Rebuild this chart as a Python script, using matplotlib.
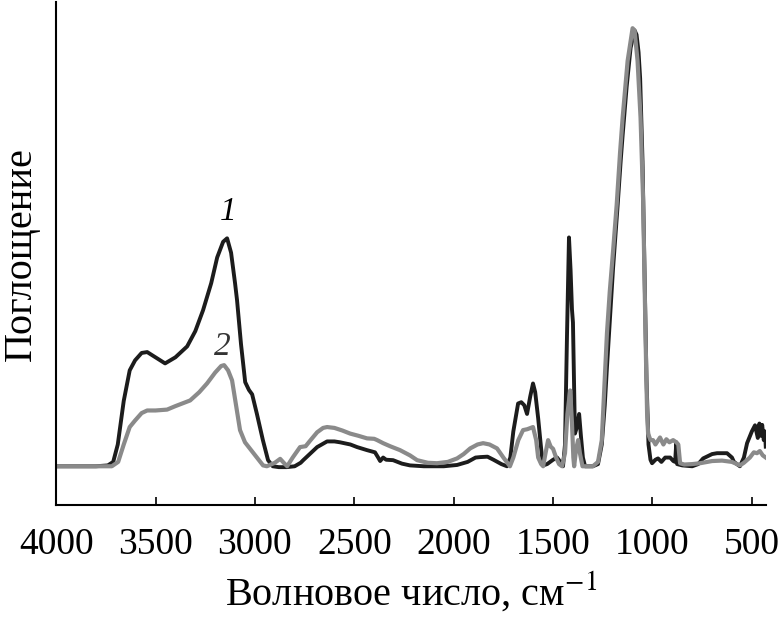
import matplotlib
matplotlib.use("Agg")
import matplotlib.pyplot as plt

plt.rcParams['font.family'] = ['Liberation Serif', 'DejaVu Serif']
plt.rcParams['mathtext.fontset'] = 'stix'

# spectrum 1 (black): wavenumber, absorbance (normalised)
wn_1 = [4000, 3800, 3740, 3713, 3690, 3660, 3630, 3603, 3570, 3542, 3500, 3452,
        3400, 3341, 3300, 3261, 3220, 3190, 3160, 3140, 3120, 3100, 3090, 3070,
        3049, 3030, 3014, 2990, 2960, 2934, 2910, 2880, 2840, 2800, 2770, 2757,
        2720, 2687, 2637, 2600, 2572, 2520, 2486, 2436, 2396, 2380, 2370, 2355,
        2340, 2305, 2260, 2220, 2150, 2050, 1983, 1930, 1890, 1867, 1830, 1800,
        1760, 1732, 1715, 1700, 1676, 1660, 1645, 1631, 1615, 1601, 1590, 1575,
        1560, 1550, 1530, 1500, 1480, 1460, 1450, 1440, 1430, 1420, 1412, 1405,
        1400, 1395, 1390, 1380, 1369, 1360, 1350, 1339, 1300, 1274, 1255, 1240,
        1229, 1215, 1198, 1175, 1160, 1150, 1130, 1110, 1090, 1080, 1070, 1062,
        1050, 1040, 1030, 1020, 1010, 1002, 985, 972, 955, 936, 911, 895, 886,
        880, 876, 850, 800, 770, 745, 700, 675, 625, 600, 590, 560, 540, 524,
        500, 484, 470, 462, 455, 448, 440, 434, 430]
abs_1 = [0, 0, 0.002, 0.01, 0.05, 0.15, 0.22, 0.243, 0.26, 0.262, 0.25, 0.236,
         0.25, 0.275, 0.31, 0.358, 0.42, 0.479, 0.515, 0.523, 0.49, 0.42, 0.381, 0.28,
         0.193, 0.175, 0.165, 0.12, 0.06, 0.014, 0.0, -0.002, -0.002, 0.0, 0.008, 0.014,
         0.03, 0.044, 0.057, 0.057, 0.055, 0.05, 0.044, 0.037, 0.032, 0.02, 0.012, 0.02,
         0.015, 0.014, 0.006, 0.002, 0, 0, 0.003, 0.01, 0.02, 0.021, 0.022, 0.015,
         0.005, 0, 0.02, 0.08, 0.144, 0.147, 0.14, 0.12, 0.16, 0.19, 0.17, 0.11,
         0.04, 0.002, 0.005, 0.015, 0.02, 0.008, 0.0, 0.05, 0.3, 0.525, 0.45, 0.36,
         0.33, 0.2, 0.075, 0.09, 0.12, 0.07, 0.02, 0.0, 0.0, 0.005, 0.05, 0.14,
         0.227, 0.33, 0.456, 0.6, 0.7, 0.76, 0.87, 0.96, 1.0, 0.99, 0.95, 0.89,
         0.7, 0.45, 0.2, 0.05, 0.015, 0.007, 0.015, 0.018, 0.01, 0.02, 0.02, 0.012, 0.01,
         0.055, 0.005, 0.002, 0.0, 0.005, 0.018, 0.028, 0.03, 0.03, 0.02, 0.01, 0, 0.02, 0.053,
         0.08, 0.094, 0.065, 0.098, 0.07, 0.095, 0.06, 0.08, 0.045]

# spectrum 2 (grey)
wn_2 = [4000, 3800, 3720, 3688, 3660, 3630, 3603, 3570, 3542, 3500, 3442, 3400,
        3326, 3280, 3241, 3200, 3170, 3155, 3135, 3115, 3095, 3075, 3050, 3024,
        2990, 2959, 2940, 2900, 2873, 2855, 2838, 2810, 2773, 2745, 2720, 2687,
        2657, 2637, 2600, 2560, 2521, 2480, 2436, 2400, 2385, 2355, 2320, 2270,
        2220, 2184, 2130, 2084, 2030, 1983, 1950, 1917, 1880, 1852, 1820, 1782,
        1750, 1717, 1700, 1675, 1651, 1630, 1601, 1585, 1575, 1560, 1550, 1538,
        1525, 1512, 1500, 1485, 1470, 1455, 1440, 1428, 1414, 1405, 1398, 1394,
        1384, 1374, 1365, 1352, 1300, 1274, 1255, 1240, 1229, 1215, 1198, 1180,
        1163, 1150, 1125, 1100, 1090, 1075, 1060, 1047, 1035, 1027, 1022, 1010,
        997, 985, 962, 945, 930, 915, 896, 880, 870, 861, 840, 800, 760, 700,
        650, 600, 560, 540, 510, 490, 474, 460, 445, 430]
abs_2 = [0, 0, 0.0, 0.01, 0.05, 0.09, 0.105, 0.122, 0.128, 0.128, 0.13, 0.138,
         0.151, 0.17, 0.19, 0.215, 0.23, 0.232, 0.22, 0.197, 0.14, 0.083, 0.055, 0.04,
         0.02, 0.002, 0.0, 0.008, 0.017, 0.008, 0.0, 0.02, 0.044, 0.046, 0.06, 0.078,
         0.088, 0.09, 0.088, 0.082, 0.075, 0.07, 0.064, 0.063, 0.06, 0.053, 0.046, 0.037,
         0.025, 0.014, 0.008, 0.007, 0.01, 0.018, 0.028, 0.041, 0.05, 0.053, 0.05, 0.041,
         0.02, 0.0, 0.02, 0.06, 0.083, 0.085, 0.09, 0.06, 0.02, 0.005, 0.0, 0.03,
         0.06, 0.045, 0.04, 0.02, 0.005, 0.0, 0.03, 0.12, 0.174, 0.1, 0.02, 0.0,
         0.04, 0.06, 0.03, 0.0, 0.0, 0.01, 0.06, 0.2, 0.305, 0.4, 0.495, 0.6,
         0.72, 0.8, 0.93, 1.005, 1.0, 0.93, 0.8, 0.61, 0.3, 0.12, 0.075, 0.06,
         0.06, 0.05, 0.066, 0.05, 0.062, 0.055, 0.06, 0.055, 0.05, 0.007, 0.004, 0.005, 0.007, 0.012,
         0.013, 0.01, 0.002, 0.008, 0.02, 0.032, 0.03, 0.035, 0.025, 0.02]

x_ticks = [4000, 3500, 3000, 2500, 2000, 1500, 1000, 500]

fig = plt.figure(figsize=(7.8, 6.22), dpi=100)
ax = fig.add_axes([0.072, 0.188, 0.910, 0.808])

ax.plot(wn_1, abs_1, color='#1c1c1c', lw=2.8, solid_joinstyle='round')
ax.plot(wn_2, abs_2, color='#8a8a8a', lw=3.0, solid_joinstyle='round')

ax.text(3135, 0.585, '1', fontsize=24, style='italic', ha='center', va='center')
ax.text(3165, 0.275, '2', fontsize=24, style='italic', ha='center', va='center', color='#333333')

ax.set_xlim(4000, 429)
ax.set_ylim(-0.089, 1.064)
ax.set_xticks(x_ticks)
ax.set_xticklabels([str(t) for t in x_ticks])
ax.set_yticks([])
ax.tick_params(axis='x', direction='in', length=6, width=1.2, labelsize=27, pad=16)
for side in ['top', 'right']:
    ax.spines[side].set_visible(False)
for side in ['left', 'bottom']:
    ax.spines[side].set_linewidth(1.5)

ax.set_xlabel('Волновое число, см$^{-1}$', fontsize=29, labelpad=6)
ax.set_ylabel('Поглощение', fontsize=29, labelpad=12)

fig.savefig('out.png', dpi=100)
